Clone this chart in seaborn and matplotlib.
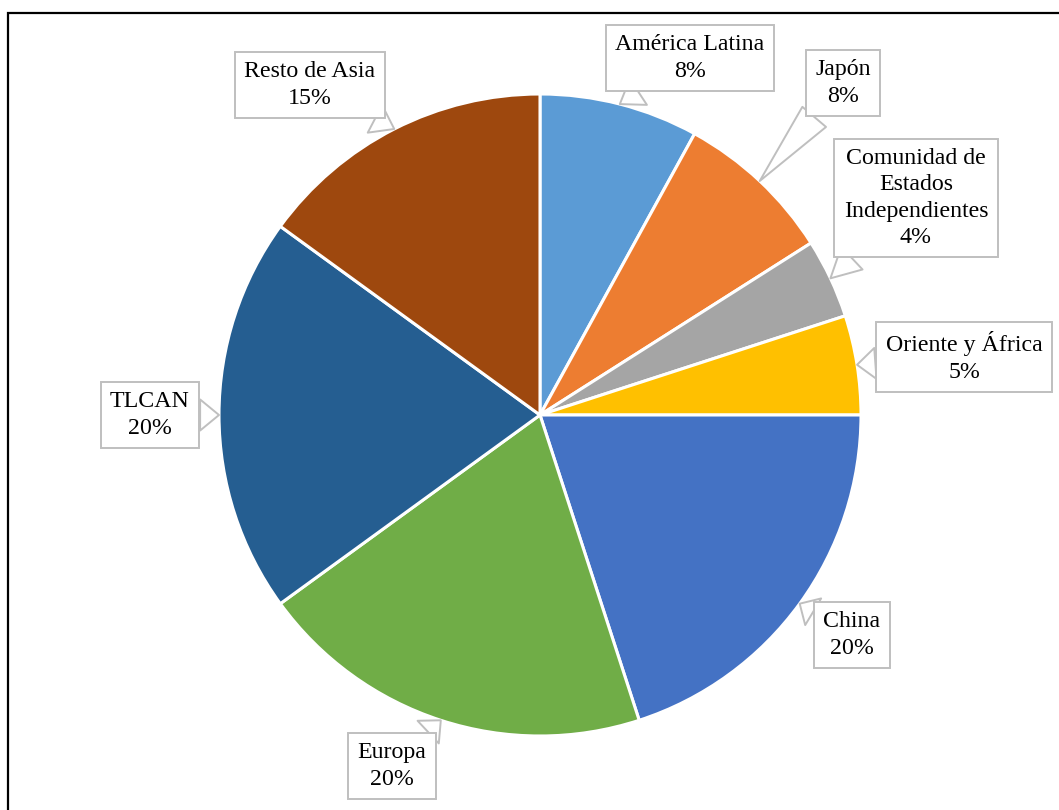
import numpy as np
import matplotlib.pyplot as plt
import seaborn as sns
from matplotlib.patches import Rectangle

regions = ['América Latina', 'Japón', 'Comunidad de\nEstados\nIndependientes',
           'Oriente y África', 'China', 'Europa', 'TLCAN', 'Resto de Asia']
shares = [8, 8, 4, 5, 20, 20, 20, 15]
colors = ['#5B9BD5', '#ED7D31', '#A5A5A5', '#FFC000',
          '#4472C4', '#70AD47', '#255E91', '#9E480E']

# label box centres in pixel coords (x from left, y from top)
box_pos = [(690, 58), (843, 83), (916, 198), (964, 357),
           (852, 635), (392, 766), (150, 415), (310, 85)]

W, H = 1059, 810
sns.set_theme(style='white')
plt.rcParams['font.family'] = ['Liberation Serif', 'DejaVu Serif']

fig = plt.figure(figsize=(W / 100, H / 100), dpi=100)
ax = fig.add_axes([0, 0, 1, 1])

cx, cy, r = 540, H - 415, 321
pal = sns.color_palette(colors)
wedges, _ = ax.pie(shares, colors=pal, startangle=90, counterclock=False,
                   center=(cx, cy), radius=r, frame=True,
                   wedgeprops=dict(edgecolor='white', linewidth=2.2))

ax.set_xlim(0, W)
ax.set_ylim(0, H)
ax.set_aspect('auto')
ax.axis('off')

total = sum(shares)
start = 90.0
for name, val, (bx, by) in zip(regions, shares, box_pos):
    span = 360.0 * val / total
    mid = np.deg2rad(start - span / 2)
    start -= span
    px, py = cx + r * np.cos(mid), cy + r * np.sin(mid)
    ax.annotate(f'{name}\n{val}%', xy=(px, py), xytext=(bx, H - by),
                ha='center', va='center', fontsize=17.2, color='black',
                linespacing=1.33,
                bbox=dict(boxstyle='square,pad=0.4', fc='white',
                          ec='#BFBFBF', lw=1.4),
                arrowprops=dict(arrowstyle='wedge,tail_width=1.3',
                                fc='white', ec='#BFBFBF', lw=1.4,
                                shrinkA=0, shrinkB=0))

# outer frame (right and bottom edges run off the image)
fig.patches.append(Rectangle((8 / W, -0.1), 1.2, 1 - 13 / H + 0.1,
                             transform=fig.transFigure, fill=False,
                             ec='black', lw=1.6))

fig.savefig('out.png', dpi=100)
